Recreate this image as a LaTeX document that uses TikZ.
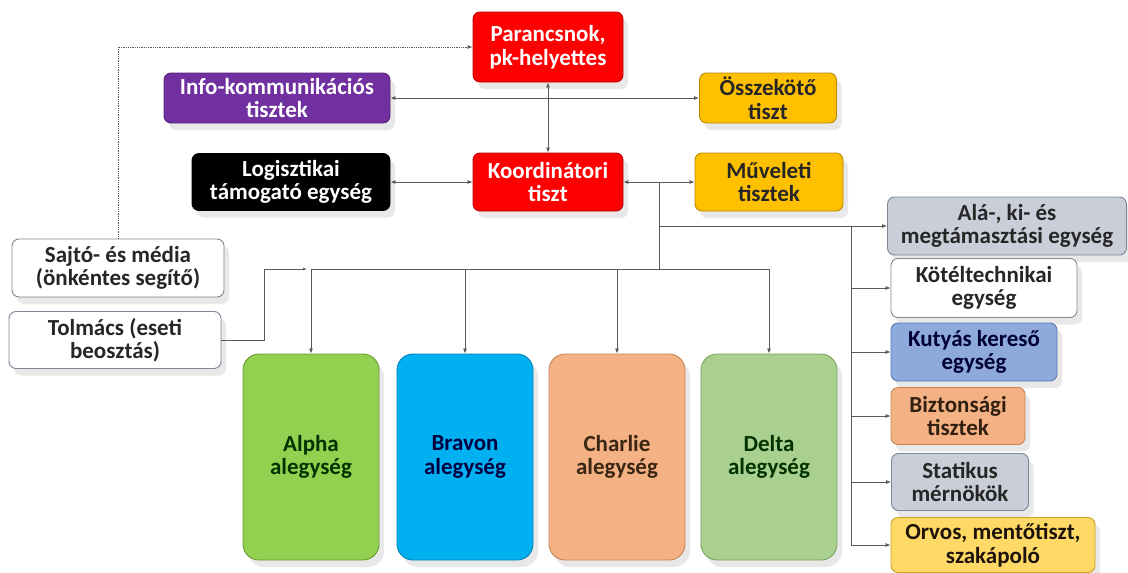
\documentclass[tikz,border=0pt]{standalone}
\usepackage{fontspec}
\setmainfont{Carlito}
\usetikzlibrary{arrows.meta,shadows}
\definecolor{cmdred}{HTML}{FF0000}
\definecolor{cmdredline}{HTML}{C00000}
\definecolor{infopurple}{HTML}{7030A0}
\definecolor{infoline}{HTML}{55247A}
\definecolor{opgold}{HTML}{FFC000}
\definecolor{opgoldline}{HTML}{B88A00}
\definecolor{boxgray}{HTML}{C9CED8}
\definecolor{boxgrayline}{HTML}{7D8796}
\definecolor{dogblue}{HTML}{8EA9DB}
\definecolor{dogblueline}{HTML}{5B79B5}
\definecolor{peach}{HTML}{F4B183}
\definecolor{peachline}{HTML}{C98455}
\definecolor{medyellow}{HTML}{FFD966}
\definecolor{medyellowline}{HTML}{C9A020}
\definecolor{alphagreen}{HTML}{92D050}
\definecolor{alphaline}{HTML}{6A9C36}
\definecolor{bravoblue}{HTML}{00B0F0}
\definecolor{bravoline}{HTML}{0085B8}
\definecolor{deltagreen}{HTML}{A9D08E}
\definecolor{deltaline}{HTML}{7BA45E}
\definecolor{linegray}{HTML}{595959}
\definecolor{darktext}{HTML}{262626}

\begin{document}
\begin{tikzpicture}[x=1pt,y=-1pt,
  box/.style={draw, rounded corners=7pt, align=center, inner sep=2pt, line width=0.9pt,
    font=\fontsize{23}{23.5}\selectfont\bfseries,
    drop shadow={shadow xshift=5pt,shadow yshift=-7pt,fill=black!55,opacity=0.16}},
  conn/.style={draw=linegray, line width=0.8pt},
  oneway/.style={conn, -{Latex[length=5pt,width=4pt]}},
  twoway/.style={conn, {Latex[length=5pt,width=4pt]}-{Latex[length=5pt,width=4pt]}}]

\fill[white] (0,0) rectangle (1128,573);
\useasboundingbox (0,0) rectangle (1128,573);

\node[box, fill=cmdred, draw=cmdredline, text=white, minimum width=150pt, minimum height=70pt] (par) at (548,47) {Parancsnok,\\pk-helyettes};
\node[box, fill=infopurple, draw=infoline, text=white, minimum width=226pt, minimum height=50pt] (info) at (277,98) {Info-kommunikációs\\tisztek};
\node[box, fill=opgold, draw=opgoldline, text=darktext, minimum width=137pt, minimum height=50pt] (ossz) at (768,98) {Összekötő\\tiszt};
\node[box, fill=black, draw=black, text=white, minimum width=198pt, minimum height=57pt] (logist) at (291,182) {Logisztikai\\támogató egység};
\node[box, fill=cmdred, draw=cmdredline, text=white, minimum width=150pt, minimum height=58pt] (koord) at (548,182) {Koordinátori\\tiszt};
\node[box, fill=opgold, draw=opgoldline, text=darktext, minimum width=148pt, minimum height=58pt] (muv) at (769,182) {Műveleti\\tisztek};

\node[box, fill=white, draw=boxgrayline, text=darktext, minimum width=212pt, minimum height=58pt] (sajto) at (118,268) {Sajtó- és média\\(önkéntes segítő)};
\node[box, fill=white, draw=boxgrayline, text=darktext, minimum width=212pt, minimum height=57pt] (tolmacs) at (115,340) {Tolmács (eseti\\beosztás)};

\node[box, fill=alphagreen, draw=alphaline, text=black!80!green, rounded corners=16pt, minimum width=136pt, minimum height=206pt] (alpha) at (311,457) {Alpha\\alegység};
\node[box, fill=bravoblue, draw=bravoline, text=black!75!blue, rounded corners=16pt, minimum width=136pt, minimum height=206pt] (bravon) at (465,457) {Bravon\\alegység};
\node[box, fill=peach, draw=peachline, text=black!70!brown, rounded corners=16pt, minimum width=136pt, minimum height=206pt] (charlie) at (617,457) {Charlie\\alegység};
\node[box, fill=deltagreen, draw=deltaline, text=black!80!green, rounded corners=16pt, minimum width=136pt, minimum height=206pt] (delta) at (769,457) {Delta\\alegység};

\node[box, fill=boxgray, draw=boxgrayline, text=darktext, minimum width=239pt, minimum height=58pt] (ala) at (1007,226) {Alá-, ki- és\\megtámasztási egység};
\node[box, fill=white, draw=boxgrayline, text=darktext, minimum width=186pt, minimum height=59pt] (kotel) at (984,288) {Kötéltechnikai\\egység};
\node[box, fill=dogblue, draw=dogblueline, text=black!80!blue, minimum width=166pt, minimum height=58pt] (kutya) at (974,352) {Kutyás kereső\\egység};
\node[box, fill=peach, draw=peachline, text=black!75!brown, minimum width=134pt, minimum height=57pt] (bizt) at (958,416) {Biztonsági\\tisztek};
\node[box, fill=boxgray, draw=boxgrayline, text=darktext, minimum width=137pt, minimum height=57pt] (stat) at (960,482) {Statikus\\mérnökök};
\node[box, fill=medyellow, draw=medyellowline, text=black!85!brown, minimum width=204pt, minimum height=55pt] (orvos) at (993,545) {Orvos, mentőtiszt,\\szakápoló};

\coordinate (split) at (659,182);
\coordinate (bus) at (659,269);
\coordinate (sidebus) at (659,226);
\coordinate (rightbus) at (851,226);
\coordinate (tbend) at (264,340);

\draw[conn, densely dotted, -{Latex[length=5pt,width=4pt]}] (sajto.north) |- (par.west);
\draw[twoway] (info.east) -- (ossz.west);
\draw[twoway] (par.south) -- (koord.north);
\draw[twoway] (logist.east) -- (koord.west);
\draw[twoway] (koord.east) -- (muv.west);

\draw[conn] (split) -- (bus);
\draw[conn] (alpha.north |- bus) -- (delta.north |- bus);
\draw[oneway] (alpha.north |- bus) -- (alpha.north);
\draw[oneway] (bravon.north |- bus) -- (bravon.north);
\draw[oneway] (charlie.north |- bus) -- (charlie.north);
\draw[oneway] (delta.north |- bus) -- (delta.north);

\draw[oneway] (sidebus) -- (ala.west);
\draw[conn] (rightbus) -- (rightbus |- orvos.west);
\draw[oneway] (rightbus |- kotel.west) -- (kotel.west);
\draw[oneway] (rightbus |- kutya.west) -- (kutya.west);
\draw[oneway] (rightbus |- bizt.west) -- (bizt.west);
\draw[oneway] (rightbus |- stat.west) -- (stat.west);
\draw[oneway] (rightbus |- orvos.west) -- (orvos.west);

\draw[conn, -{Latex[length=4pt,width=3pt]}, shorten >=4pt] (tolmacs.east) -- (tbend) -- (tbend |- bus) -- (alpha.north |- bus);
\end{tikzpicture}
\end{document}
